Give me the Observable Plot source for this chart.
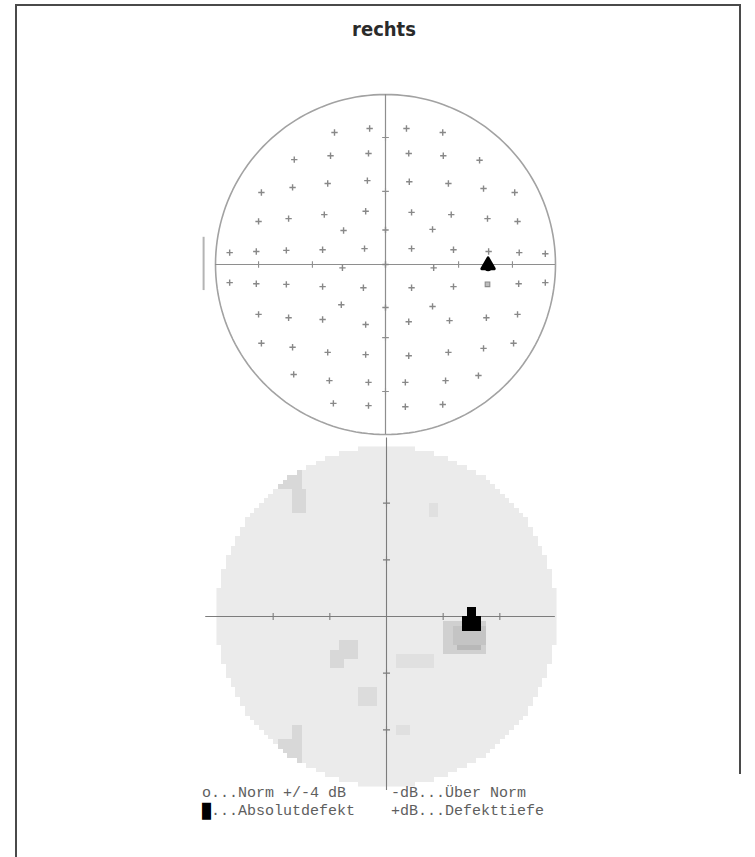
<!DOCTYPE html>
<html>
<head>
<meta charset="utf-8">
<script src="https://cdn.jsdelivr.net/npm/d3@7"></script>
<script src="https://cdn.jsdelivr.net/npm/@observablehq/plot@0.6"></script>
<style>
  body { margin: 0; background: #fff; }
  #page { position: relative; width: 755px; height: 857px; overflow: hidden; background: #fff; }
  .edge { position: absolute; background: #4a4a4a; }
  #title { position: absolute; left: 284px; width: 200px; top: 17px; text-align: center;
           font-family: "Liberation Sans Narrow", "DejaVu Sans Condensed", sans-serif;
           font-weight: bold; font-size: 20px; color: #2a2a2a; }
  .chart { position: absolute; left: 0; }
  #legend { position: absolute; left: 202px; top: 785px; font-family: "Liberation Mono", "DejaVu Sans Mono", monospace;
            font-size: 15px; line-height: 18px; color: #5e5e5e; white-space: pre; }
  #legend .blk { color: #000; }
</style>
</head>
<body>
<div id="page">
  <div class="edge" style="left:15px;top:4px;width:1.5px;height:853px"></div>
  <div class="edge" style="left:15px;top:4px;width:725px;height:1.5px"></div>
  <div class="edge" style="left:739px;top:4px;width:1.5px;height:770px"></div>
  <div id="title">rechts</div>
  <div id="top" class="chart" style="top:0px"></div>
  <div id="bottom" class="chart" style="top:430px"></div>
  <div id="legend"></div>
</div>
<script>
// Perimetry field, right eye. Coordinates in degrees (x temporal/nasal, y superior/inferior).
const fieldRadius = 30;

// Test locations of the examination grid (as printed on the result sheet)
const testX = [
  -9.0, -2.8, -16.1, -9.7, -3.0, -21.9, -16.4, -10.2, -3.2, -22.4, -17.1, -10.8, -3.5, -7.4,
  -27.5, -22.8, -17.5, -11.1, -3.7,
  3.7, 10.1, 4.1, 10.2, 16.6, 4.2, 11.1, 17.3, 22.8, 4.6, 11.6, 18.0, 23.3, 8.3,
  4.6, 12.0, 18.2, 23.6, 28.2,
  -27.5, -22.8, -17.5, -11.1, -3.9, -7.8, -22.4, -17.1, -11.1, -3.5,
  -21.9, -16.4, -10.2, -3.5, -16.2, -9.9, -3.0, -9.2, -3.0,
  4.6, 12.0, 23.5, 28.2, 8.3, 4.1, 11.3, 17.8, 23.3,
  4.1, 11.1, 17.3, 22.6, 3.5, 10.6, 16.4, 3.5, 10.1,
  0, 0, -7.6, 8.5, 0
];
const testY = [
  23.3, 24.0, 18.5, 19.2, 19.6, 12.7, 13.6, 14.3, 14.8, 7.6, 8.1, 8.8, 9.4, 6.0,
  2.1, 2.3, 2.5, 2.6, 2.8,
  24.0, 23.3, 19.6, 19.2, 18.4, 14.6, 14.3, 13.4, 12.7, 9.2, 8.8, 8.1, 7.6, 6.2,
  2.8, 2.6, 2.3, 2.1, 1.9,
  -3.2, -3.4, -3.5, -3.9, -4.1, -7.1, -8.8, -9.4, -9.7, -10.6,
  -13.9, -14.6, -15.5, -15.9, -19.4, -20.5, -20.8, -24.5, -24.9,
  -4.1, -3.9, -3.4, -3.2, -7.4, -10.1, -9.9, -9.4, -8.8,
  -16.1, -15.5, -14.8, -13.9, -20.8, -20.5, -19.6, -25.1, -24.7,
  6.1, -7.6, -0.6, -0.6, 0
];

// Location flagged as relative defect (square symbol) and absolute defect (filled)
const relDefect = {x: 18.0, y: -3.5};
const absDefect = {x: 18.1, y: -0.1};

// Scale marks on the meridians of the upper sheet
const upperTicks = [-22.4, -12.9, 12.9, 22.4];
// Scale marks on the meridians of the grey-scale map (every 10°)
const lowerTicks = [-20, -10, 10, 20];

// Grey-scale map: regions of loss (degrees) and depth in dB
const patchX1 = [-19.6, -16.4, 7.8, -10.2, -8.7, 1.6, -5.2, -16.9, -19.0, 1.9, 10.4, 11.5, 12.5, 13.1, 13.8];
const patchX2 = [-14.6, -14.0, 9.5, -7.5, -5.2, 8.4, -1.6, -14.6, -14.6, 3.9, 17.8, 17.2, 16.6, 16.9, 16.0];
const patchY1 = [22.2, 18.1, 17.8, -9.5, -7.2, -9.5, -16.0, -21.3, -25.7, -21.0, -6.5, -4.8, -6.2, -2.2, 0.0];
const patchY2 = [26.0, 22.2, 20.2, -6.0, -3.9, -6.6, -12.2, -18.9, -21.3, -18.9, -0.6, -1.5, -4.6, 0.2, 1.9];
const patchDb = [5, 5, 3, 5, 5, 3, 4, 5, 5, 3, 7, 10, 12, 30, 30];
const absoluteDb = 30;

// Legend lines
const legendRows = [
  ["o", "...Norm +/-4 dB     -dB...Über Norm"],
  ["█", "...Absolutdefekt    +dB...Defekttiefe"]
];

const tests = testX.map((x, i) => ({x, y: testY[i]}));
const boundary = d3.range(0, 361, 2).map(a => ({
  x: fieldRadius * Math.cos(a * Math.PI / 180),
  y: fieldRadius * Math.sin(a * Math.PI / 180)
}));
const axisMarks = upperTicks.flatMap(t => [{x: t, y: 0}, {x: 0, y: t}]);
const lowerMarks = lowerTicks.flatMap(t => [{x: t, y: 0}, {x: 0, y: t}]);

// Upper sheet: test grid
const upper = Plot.plot({
  width: 755, height: 450,
  marginLeft: 215, marginRight: 200, marginTop: 94, marginBottom: 16,
  x: {domain: [-fieldRadius, fieldRadius], axis: null},
  y: {domain: [-fieldRadius, fieldRadius], axis: null},
  marks: [
    Plot.line(boundary, {x: "x", y: "y", stroke: "#a2a2a2", strokeWidth: 1.6}),
    Plot.ruleX([0], {y1: -fieldRadius, y2: fieldRadius, stroke: "#8e8e8e", strokeWidth: 1.2}),
    Plot.ruleY([0], {x1: -fieldRadius, x2: fieldRadius, stroke: "#8e8e8e", strokeWidth: 1.2}),
    Plot.ruleX([-32.1], {y1: -4.6, y2: 4.8, stroke: "#b4b4b4", strokeWidth: 2}),
    Plot.dot(axisMarks, {x: "x", y: "y", symbol: "plus", r: 2.3, stroke: "#8e8e8e", strokeWidth: 1.1}),
    Plot.dot(tests, {x: "x", y: "y", symbol: "plus", r: 2.2, stroke: "#888", strokeWidth: 1.4}),
    Plot.dot([relDefect], {x: "x", y: "y", symbol: "square", r: 2.6, stroke: "#8a8a8a", fill: "#bdbdbd", strokeWidth: 1.1}),
    Plot.dot([absDefect], {x: "x", y: "y", symbol: "triangle", r: 4.6, fill: "#000", stroke: "#000",
      strokeWidth: 3, strokeLinejoin: "round"}),
    Plot.dot([absDefect], {x: "x", y: "y", r: 4.2, dy: 2, fill: "#000"})
  ]
});
document.getElementById("top").append(upper);

// Lower sheet: grey-scale map of defect depth
function depthAt(x, y) {
  if (x * x + y * y > fieldRadius * fieldRadius) return NaN;
  let v = 0;
  for (let i = 0; i < patchDb.length; ++i) {
    if (x >= patchX1[i] && x <= patchX2[i] && y >= patchY1[i] && y <= patchY2[i]) v = patchDb[i];
  }
  return v;
}
// Absolute defects are printed over the meridian lines
function absoluteAt(x, y) {
  const v = depthAt(x, y);
  return v >= absoluteDb ? v : NaN;
}
const rasterExtent = {x1: -fieldRadius, x2: fieldRadius, y1: -fieldRadius, y2: fieldRadius,
  width: 72, height: 72, imageRendering: "pixelated"};

const lower = Plot.plot({
  width: 755, height: 427,
  marginLeft: 216, marginRight: 199, marginTop: 16, marginBottom: 71,
  x: {domain: [-fieldRadius, fieldRadius], axis: null},
  y: {domain: [-fieldRadius, fieldRadius], axis: null},
  color: {type: "linear", domain: [0, 5, 10, 15, 30],
          range: ["#ebebeb", "#d8d8d8", "#c4c4c4", "#a6a6a6", "#000000"], clamp: true},
  marks: [
    Plot.raster({...rasterExtent, fill: depthAt}),
    Plot.ruleX([0], {y1: -30.7, y2: 31.5, stroke: "#7c7c7c", strokeWidth: 1.1}),
    Plot.ruleY([0], {x1: -31.9, x2: 29.8, stroke: "#7c7c7c", strokeWidth: 1.1}),
    Plot.dot(lowerMarks, {x: "x", y: "y", symbol: "plus", r: 2.4, stroke: "#7c7c7c", strokeWidth: 1.1}),
    Plot.raster({...rasterExtent, fill: absoluteAt})
  ]
});
document.getElementById("bottom").append(lower);

// Legend
const legend = document.getElementById("legend");
legendRows.forEach(([sym, text]) => {
  const row = document.createElement("div");
  const s = document.createElement("span");
  if (sym === "█") s.className = "blk";
  s.textContent = sym;
  row.append(s, document.createTextNode(text));
  legend.append(row);
});
</script>
</body>
</html>
